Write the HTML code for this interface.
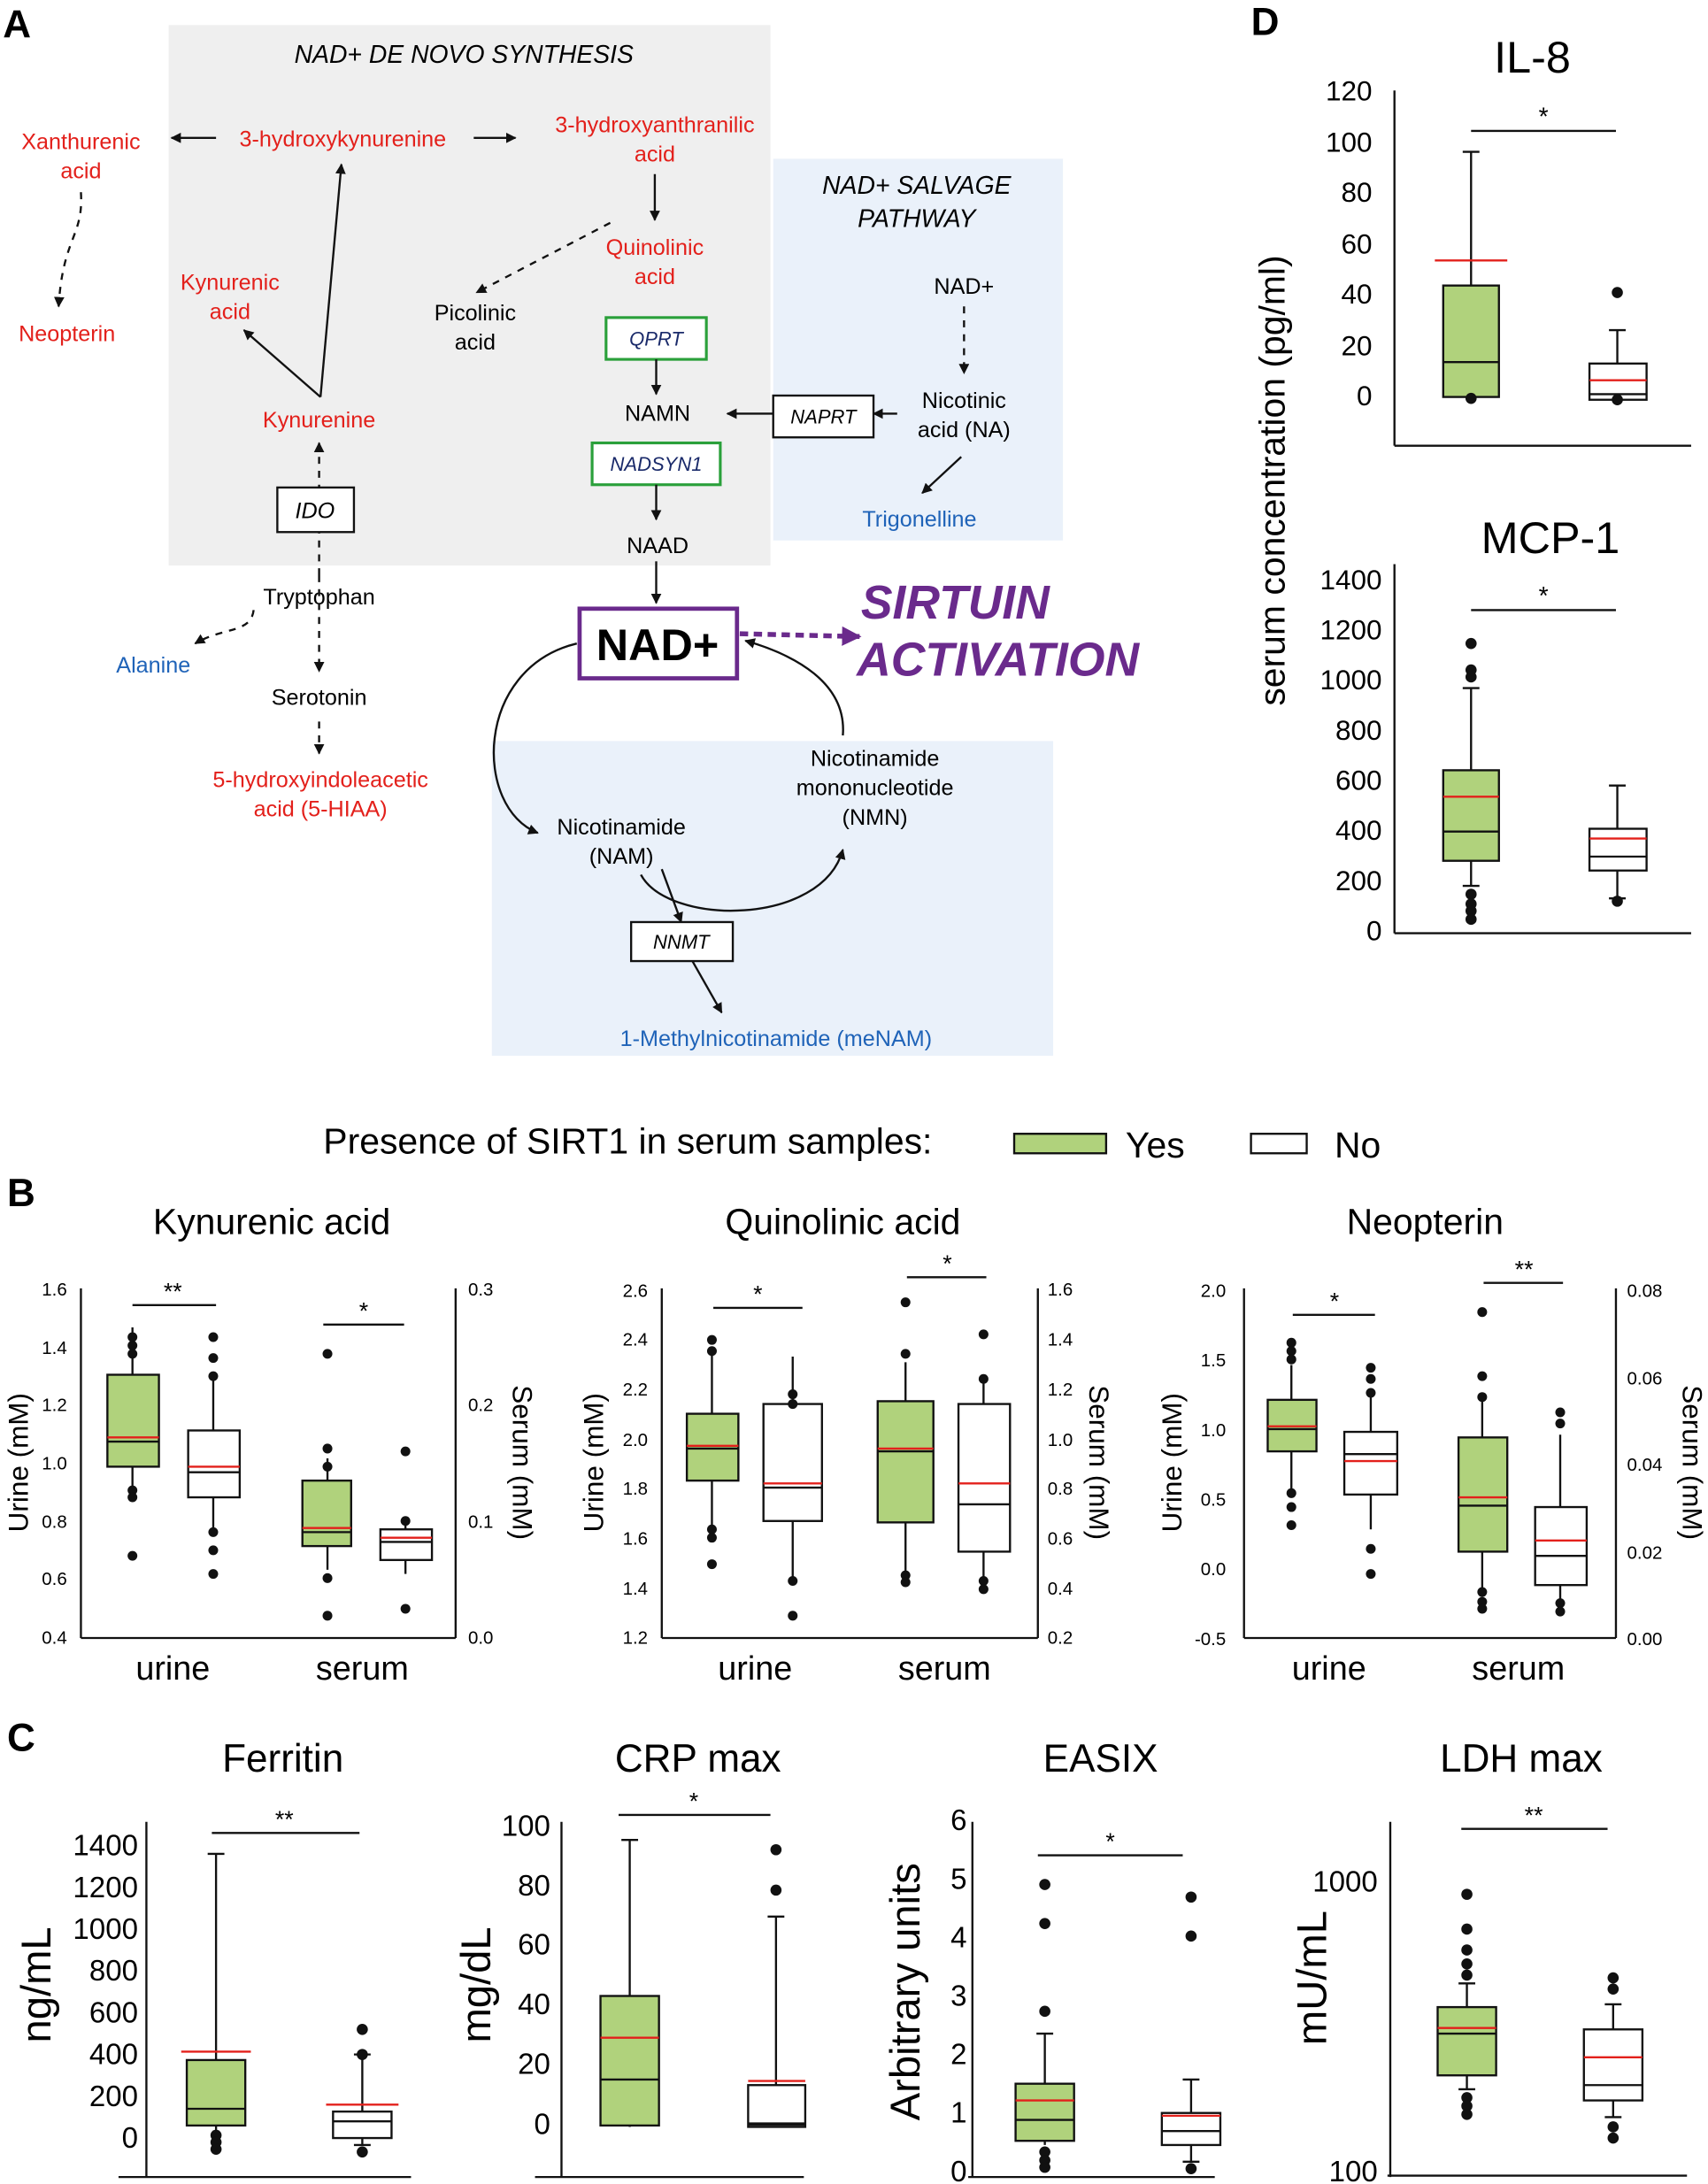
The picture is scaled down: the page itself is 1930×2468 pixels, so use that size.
<!DOCTYPE html>
<html><head><meta charset="utf-8"><style>
html,body{margin:0;padding:0;background:#fff}
svg{display:block}
text{font-family:"Liberation Sans",Arial,sans-serif}
</style></head><body>
<svg width="1930" height="2468" viewBox="0 0 1226 1568" xmlns="http://www.w3.org/2000/svg">
<defs>
<marker id="ah" viewBox="0 0 10 10" refX="9" refY="5" markerWidth="5" markerHeight="5" orient="auto"><path d="M0,0L10,5L0,10z" fill="#111"/></marker>
<marker id="ap" viewBox="0 0 10 10" refX="9" refY="5" markerWidth="4" markerHeight="4" orient="auto"><path d="M0,0L10,5L0,10z" fill="#6a2a8c"/></marker>
</defs>
<!-- PANEL A -->
<text x="2" y="27" font-size="28" font-weight="bold">A</text>
<rect x="121" y="18" width="432" height="388" fill="#efefef"/>
<rect x="555" y="114" width="208" height="274" fill="#eaf1fa"/>
<rect x="353" y="532" width="403" height="226" fill="#eaf1fa"/>
<g font-size="16" text-anchor="middle">
<text x="333" y="45" font-size="18" font-style="italic">NAD+ DE NOVO SYNTHESIS</text>
<text x="658" y="139" font-size="18" font-style="italic">NAD+ SALVAGE</text>
<text x="658" y="163" font-size="18" font-style="italic">PATHWAY</text>
<g fill="#e3201b">
<text x="58" y="107">Xanthurenic</text><text x="58" y="128">acid</text>
<text x="48" y="245">Neopterin</text>
<text x="246" y="105">3-hydroxykynurenine</text>
<text x="470" y="95">3-hydroxyanthranilic</text><text x="470" y="116">acid</text>
<text x="470" y="183">Quinolinic</text><text x="470" y="204">acid</text>
<text x="165" y="208">Kynurenic</text><text x="165" y="229">acid</text>
<text x="229" y="307">Kynurenine</text>
<text x="230" y="565">5-hydroxyindoleacetic</text><text x="230" y="586">acid (5-HIAA)</text>
</g>
<text x="341" y="230">Picolinic</text><text x="341" y="251">acid</text>
<text x="472" y="302">NAMN</text>
<text x="472" y="397">NAAD</text>
<text x="692" y="211">NAD+</text>
<text x="692" y="293">Nicotinic</text><text x="692" y="314">acid (NA)</text>
<text x="229" y="434">Tryptophan</text>
<text x="229" y="506">Serotonin</text>
<text x="628" y="550">Nicotinamide</text><text x="628" y="571">mononucleotide</text><text x="628" y="592">(NMN)</text>
<text x="446" y="599">Nicotinamide</text><text x="446" y="620">(NAM)</text>
<g fill="#1f63b8">
<text x="660" y="378">Trigonelline</text>
<text x="110" y="483">Alanine</text>
<text x="557" y="751">1-Methylnicotinamide (meNAM)</text>
</g>
</g>
<rect x="435" y="228" width="72" height="30" fill="#fff" stroke="#2aa03a" stroke-width="2"/>
<text x="471" y="248" font-size="14" font-style="italic" text-anchor="middle" fill="#1a2a6a">QPRT</text>
<rect x="425" y="318" width="92" height="30" fill="#fff" stroke="#2aa03a" stroke-width="2"/>
<text x="471" y="338" font-size="14" font-style="italic" text-anchor="middle" fill="#1a2a6a">NADSYN1</text>
<rect x="555" y="284" width="72" height="30" fill="#fff" stroke="#111" stroke-width="1.5"/>
<text x="591" y="304" font-size="14" font-style="italic" text-anchor="middle">NAPRT</text>
<g stroke="#111" stroke-width="1.5" fill="none" stroke-dasharray="5,5" marker-end="url(#ah)">
<path d="M58,138 C60,170 45,170 42,220"/>
<line x1="438" y1="160" x2="342" y2="210"/>
<line x1="692" y1="220" x2="692" y2="268"/>
<line x1="229" y1="413" x2="229" y2="318"/>
<line x1="229" y1="413" x2="229" y2="482"/>
<line x1="229" y1="518" x2="229" y2="541"/>
<path d="M182,438 C180,455 160,450 140,462"/>
</g>
<rect x="199" y="350" width="55" height="32" fill="#fff" stroke="#111" stroke-width="1.5"/>
<text x="226" y="372" font-size="16" font-style="italic" text-anchor="middle">IDO</text>
<rect x="416" y="437" width="113" height="50" fill="#fff" stroke="#6a2a8c" stroke-width="3"/>
<text x="472" y="474" font-size="32" font-weight="bold" text-anchor="middle">NAD+</text>
<text x="618" y="444" font-size="34" font-weight="bold" font-style="italic" fill="#6a2a8c">SIRTUIN</text>
<text x="615" y="485" font-size="34" font-weight="bold" font-style="italic" fill="#6a2a8c">ACTIVATION</text>
<g stroke="#111" stroke-width="1.5" fill="none" marker-end="url(#ah)">
<line x1="155" y1="99" x2="123" y2="99"/>
<line x1="340" y1="99" x2="370" y2="99"/>
<line x1="470" y1="125" x2="470" y2="158"/>
<line x1="230" y1="285" x2="245" y2="118"/>
<line x1="230" y1="285" x2="175" y2="237"/>
<line x1="471" y1="258" x2="471" y2="283"/>
<line x1="471" y1="348" x2="471" y2="373"/>
<line x1="471" y1="403" x2="471" y2="433"/>
<line x1="555" y1="297" x2="522" y2="297"/>
<line x1="644" y1="297" x2="627" y2="297" marker-end=""/>
<line x1="690" y1="328" x2="662" y2="354"/>
<line x1="497" y1="690" x2="518" y2="727"/>
<line x1="475" y1="624" x2="489" y2="662" marker-end=""/>
<path d="M414,462 C340,480 340,580 386,598"/>
<path d="M605,528 C608,490 570,470 535,460"/>
<path d="M460,628 C480,665 590,665 605,610"/>
</g>
<rect x="453" y="662" width="73" height="28" fill="#fff" stroke="#111" stroke-width="1.5"/>
<text x="489" y="681" font-size="14" font-style="italic" text-anchor="middle">NNMT</text>
<line x1="531" y1="455" x2="617" y2="457" stroke="#6a2a8c" stroke-width="3.5" stroke-dasharray="6,4" marker-end="url(#ap)"/>

<!-- PANEL D -->
<text x="898" y="25" font-size="28" font-weight="bold">D</text>
<text x="1100" y="52" font-size="32" text-anchor="middle">IL-8</text>
<text x="1113" y="397" font-size="32" text-anchor="middle">MCP-1</text>
<text transform="translate(922,345) rotate(-90)" font-size="26" text-anchor="middle">serum concentration (pg/ml)</text>
<g font-size="20" text-anchor="end">
<text x="985" y="72">120</text><text x="985" y="109">100</text><text x="985" y="145">80</text><text x="985" y="182">60</text><text x="985" y="218">40</text><text x="985" y="255">20</text><text x="985" y="291">0</text>
<text x="992" y="423">1400</text><text x="992" y="459">1200</text><text x="992" y="495">1000</text><text x="992" y="531">800</text><text x="992" y="567">600</text><text x="992" y="603">400</text><text x="992" y="639">200</text><text x="992" y="675">0</text>
</g>
<g stroke="#111" stroke-width="1.5">
<line x1="1001" y1="65" x2="1001" y2="320"/><line x1="1001" y1="320" x2="1214" y2="320"/>
<line x1="1001" y1="405" x2="1001" y2="670"/><line x1="1001" y1="670" x2="1214" y2="670"/>
<line x1="1056" y1="94" x2="1160" y2="94"/><line x1="1056" y1="438" x2="1160" y2="438"/>
<line x1="1056" y1="109" x2="1056" y2="285"/><line x1="1050" y1="109" x2="1062" y2="109"/>
<rect x="1036" y="205" width="40" height="80" fill="#b0d27c"/>
<line x1="1036" y1="260" x2="1076" y2="260"/>
<line x1="1030" y1="187" x2="1082" y2="187" stroke="#e3201b"/>
<line x1="1161" y1="237" x2="1161" y2="261"/><line x1="1155" y1="237" x2="1167" y2="237"/>
<rect x="1141" y="261" width="41" height="26" fill="#fff"/>
<line x1="1141" y1="283" x2="1182" y2="283"/>
<line x1="1141" y1="273" x2="1182" y2="273" stroke="#e3201b"/>
<line x1="1056" y1="494" x2="1056" y2="636"/><line x1="1050" y1="494" x2="1062" y2="494"/><line x1="1050" y1="636" x2="1062" y2="636"/>
<rect x="1036" y="553" width="40" height="65" fill="#b0d27c"/>
<line x1="1036" y1="597" x2="1076" y2="597"/>
<line x1="1036" y1="572" x2="1076" y2="572" stroke="#e3201b"/>
<line x1="1161" y1="564" x2="1161" y2="645"/><line x1="1155" y1="564" x2="1167" y2="564"/><line x1="1155" y1="645" x2="1167" y2="645"/>
<rect x="1141" y="595" width="41" height="30" fill="#fff"/>
<line x1="1141" y1="615" x2="1182" y2="615"/>
<line x1="1141" y1="602" x2="1182" y2="602" stroke="#e3201b"/>
</g>
<g fill="#111">
<circle cx="1056" cy="286" r="4"/><circle cx="1161" cy="210" r="4"/><circle cx="1161" cy="287" r="4"/>
<circle cx="1056" cy="462" r="4"/><circle cx="1056" cy="481" r="4"/><circle cx="1056" cy="486" r="4"/><circle cx="1056" cy="642" r="4"/><circle cx="1056" cy="649" r="4"/><circle cx="1056" cy="654" r="4"/><circle cx="1056" cy="660" r="4"/>
<circle cx="1161" cy="647" r="4"/>
</g>
<g font-size="18" text-anchor="middle"><text x="1108" y="90">*</text><text x="1108" y="434">*</text></g>

<!-- LEGEND -->
<text x="232" y="828" font-size="26">Presence of SIRT1 in serum samples:</text>
<rect x="728" y="814" width="66" height="14" fill="#b0d27c" stroke="#111" stroke-width="1.5"/>
<text x="808" y="831" font-size="26">Yes</text>
<rect x="898" y="814" width="40" height="14" fill="#fff" stroke="#111" stroke-width="1.5"/>
<text x="958" y="831" font-size="26">No</text>

<!-- PANEL B -->
<text x="5" y="866" font-size="28" font-weight="bold">B</text>
<g font-size="26" text-anchor="middle">
<text x="195" y="886">Kynurenic acid</text><text x="605" y="886">Quinolinic acid</text><text x="1023" y="886">Neopterin</text>
</g>
<g font-size="24" text-anchor="middle">
<text x="124" y="1206">urine</text><text x="260" y="1206">serum</text>
<text x="542" y="1206">urine</text><text x="678" y="1206">serum</text>
<text x="954" y="1206">urine</text><text x="1090" y="1206">serum</text>
</g>
<g font-size="20" text-anchor="middle">
<text transform="translate(20,1050) rotate(-90)">Urine (mM)</text>
<text transform="translate(368,1050) rotate(90)">Serum (mM)</text>
<text transform="translate(433,1050) rotate(-90)">Urine (mM)</text>
<text transform="translate(782,1050) rotate(90)">Serum (mM)</text>
<text transform="translate(848,1050) rotate(-90)">Urine (mM)</text>
<text transform="translate(1208,1050) rotate(90)">Serum (mM)</text>
</g>
<g font-size="13" text-anchor="end">
<text x="48" y="930">1.6</text><text x="48" y="972">1.4</text><text x="48" y="1013">1.2</text><text x="48" y="1055">1.0</text><text x="48" y="1097">0.8</text><text x="48" y="1138">0.6</text><text x="48" y="1180">0.4</text>
<text x="465" y="931">2.6</text><text x="465" y="966">2.4</text><text x="465" y="1002">2.2</text><text x="465" y="1038">2.0</text><text x="465" y="1073">1.8</text><text x="465" y="1109">1.6</text><text x="465" y="1145">1.4</text><text x="465" y="1180">1.2</text>
<text x="880" y="931">2.0</text><text x="880" y="981">1.5</text><text x="880" y="1031">1.0</text><text x="880" y="1081">0.5</text><text x="880" y="1131">0.0</text><text x="880" y="1181">-0.5</text>
</g>
<g font-size="13">
<text x="336" y="930">0.3</text><text x="336" y="1097">0.1</text><text x="336" y="1180">0.0</text>
<text x="336" y="1013">0.2</text>
<text x="752" y="930">1.6</text><text x="752" y="966">1.4</text><text x="752" y="1002">1.2</text><text x="752" y="1038">1.0</text><text x="752" y="1073">0.8</text><text x="752" y="1109">0.6</text><text x="752" y="1145">0.4</text><text x="752" y="1180">0.2</text>
<text x="1168" y="931">0.08</text><text x="1168" y="994">0.06</text><text x="1168" y="1056">0.04</text><text x="1168" y="1119">0.02</text><text x="1168" y="1181">0.00</text>
</g>
<g stroke="#111" stroke-width="1.5">
<line x1="58" y1="925" x2="58" y2="1176"/><line x1="327" y1="925" x2="327" y2="1176"/><line x1="58" y1="1176" x2="327" y2="1176"/>
<line x1="475" y1="925" x2="475" y2="1176"/><line x1="745" y1="925" x2="745" y2="1176"/><line x1="475" y1="1176" x2="745" y2="1176"/>
<line x1="893" y1="925" x2="893" y2="1176"/><line x1="1160" y1="925" x2="1160" y2="1176"/><line x1="893" y1="1176" x2="1160" y2="1176"/>
<line x1="95" y1="937" x2="155" y2="937"/><line x1="232" y1="951" x2="290" y2="951"/>
<line x1="512" y1="939" x2="576" y2="939"/><line x1="651" y1="917" x2="708" y2="917"/>
<line x1="928" y1="944" x2="987" y2="944"/><line x1="1065" y1="921" x2="1122" y2="921"/>
<line x1="95" y1="953" x2="95" y2="1068"/><rect x="77" y="987" width="37" height="66" fill="#b0d27c"/><line x1="77" y1="1035" x2="114" y2="1035"/><line x1="77" y1="1032" x2="114" y2="1032" stroke="#e3201b"/>
<line x1="153" y1="987" x2="153" y2="1097"/><rect x="135" y="1027" width="37" height="48" fill="#fff"/><line x1="135" y1="1057" x2="172" y2="1057"/><line x1="135" y1="1053" x2="172" y2="1053" stroke="#e3201b"/>
<line x1="235" y1="1047" x2="235" y2="1127"/><rect x="217" y="1063" width="35" height="47" fill="#b0d27c"/><line x1="217" y1="1100" x2="252" y2="1100"/><line x1="217" y1="1097" x2="252" y2="1097" stroke="#e3201b"/>
<line x1="291" y1="1090" x2="291" y2="1130"/><rect x="273" y="1098" width="37" height="22" fill="#fff"/><line x1="273" y1="1107" x2="310" y2="1107"/><line x1="273" y1="1104" x2="310" y2="1104" stroke="#e3201b"/>
<line x1="511" y1="968" x2="511" y2="1095"/><rect x="493" y="1015" width="37" height="48" fill="#b0d27c"/><line x1="493" y1="1040" x2="530" y2="1040"/><line x1="493" y1="1038" x2="530" y2="1038" stroke="#e3201b"/>
<line x1="569" y1="974" x2="569" y2="1133"/><rect x="548" y="1008" width="42" height="84" fill="#fff"/><line x1="548" y1="1068" x2="590" y2="1068"/><line x1="548" y1="1065" x2="590" y2="1065" stroke="#e3201b"/>
<line x1="650" y1="978" x2="650" y2="1130"/><rect x="630" y="1006" width="40" height="87" fill="#b0d27c"/><line x1="630" y1="1042" x2="670" y2="1042"/><line x1="630" y1="1040" x2="670" y2="1040" stroke="#e3201b"/>
<line x1="706" y1="990" x2="706" y2="1135"/><rect x="688" y="1008" width="37" height="106" fill="#fff"/><line x1="688" y1="1080" x2="725" y2="1080"/><line x1="688" y1="1065" x2="725" y2="1065" stroke="#e3201b"/>
<line x1="927" y1="980" x2="927" y2="1069"/><rect x="910" y="1005" width="35" height="37" fill="#b0d27c"/><line x1="910" y1="1026" x2="945" y2="1026"/><line x1="910" y1="1024" x2="945" y2="1024" stroke="#e3201b"/>
<line x1="984" y1="1003" x2="984" y2="1098"/><rect x="965" y="1028" width="38" height="45" fill="#fff"/><line x1="965" y1="1044" x2="1003" y2="1044"/><line x1="965" y1="1049" x2="1003" y2="1049" stroke="#e3201b"/>
<line x1="1064" y1="1003" x2="1064" y2="1140"/><rect x="1047" y="1032" width="35" height="82" fill="#b0d27c"/><line x1="1047" y1="1081" x2="1082" y2="1081"/><line x1="1047" y1="1075" x2="1082" y2="1075" stroke="#e3201b"/>
<line x1="1120" y1="1030" x2="1120" y2="1150"/><rect x="1102" y="1082" width="37" height="56" fill="#fff"/><line x1="1102" y1="1117" x2="1139" y2="1117"/><line x1="1102" y1="1106" x2="1139" y2="1106" stroke="#e3201b"/>
</g>
<g fill="#111">
<circle cx="95" cy="960" r="3.5"/><circle cx="95" cy="966" r="3.5"/><circle cx="95" cy="972" r="3.5"/><circle cx="95" cy="1070" r="3.5"/><circle cx="95" cy="1075" r="3.5"/><circle cx="95" cy="1117" r="3.5"/>
<circle cx="153" cy="960" r="3.5"/><circle cx="153" cy="975" r="3.5"/><circle cx="153" cy="988" r="3.5"/><circle cx="153" cy="1100" r="3.5"/><circle cx="153" cy="1113" r="3.5"/><circle cx="153" cy="1130" r="3.5"/>
<circle cx="235" cy="972" r="3.5"/><circle cx="235" cy="1040" r="3.5"/><circle cx="235" cy="1053" r="3.5"/><circle cx="235" cy="1133" r="3.5"/><circle cx="235" cy="1160" r="3.5"/>
<circle cx="291" cy="1042" r="3.5"/><circle cx="291" cy="1092" r="3.5"/><circle cx="291" cy="1155" r="3.5"/>
<circle cx="511" cy="962" r="3.5"/><circle cx="511" cy="970" r="3.5"/><circle cx="511" cy="1098" r="3.5"/><circle cx="511" cy="1104" r="3.5"/><circle cx="511" cy="1123" r="3.5"/>
<circle cx="569" cy="1001" r="3.5"/><circle cx="569" cy="1008" r="3.5"/><circle cx="569" cy="1135" r="3.5"/><circle cx="569" cy="1160" r="3.5"/>
<circle cx="650" cy="935" r="3.5"/><circle cx="650" cy="972" r="3.5"/><circle cx="650" cy="1131" r="3.5"/><circle cx="650" cy="1136" r="3.5"/>
<circle cx="706" cy="958" r="3.5"/><circle cx="706" cy="990" r="3.5"/><circle cx="706" cy="1135" r="3.5"/><circle cx="706" cy="1141" r="3.5"/>
<circle cx="927" cy="964" r="3.5"/><circle cx="927" cy="970" r="3.5"/><circle cx="927" cy="976" r="3.5"/><circle cx="927" cy="1072" r="3.5"/><circle cx="927" cy="1082" r="3.5"/><circle cx="927" cy="1095" r="3.5"/>
<circle cx="984" cy="982" r="3.5"/><circle cx="984" cy="990" r="3.5"/><circle cx="984" cy="1000" r="3.5"/><circle cx="984" cy="1112" r="3.5"/><circle cx="984" cy="1130" r="3.5"/>
<circle cx="1064" cy="942" r="3.5"/><circle cx="1064" cy="988" r="3.5"/><circle cx="1064" cy="1003" r="3.5"/><circle cx="1064" cy="1143" r="3.5"/><circle cx="1064" cy="1150" r="3.5"/><circle cx="1064" cy="1155" r="3.5"/>
<circle cx="1120" cy="1014" r="3.5"/><circle cx="1120" cy="1022" r="3.5"/><circle cx="1120" cy="1151" r="3.5"/><circle cx="1120" cy="1157" r="3.5"/>
</g>
<g font-size="17" text-anchor="middle">
<text x="124" y="933">**</text><text x="261" y="947">*</text><text x="544" y="935">*</text><text x="680" y="913">*</text><text x="958" y="940">*</text><text x="1094" y="917">**</text>
</g>

<!-- PANEL C -->
<text x="5" y="1257" font-size="28" font-weight="bold">C</text>
<g font-size="28" text-anchor="middle">
<text x="203" y="1272">Ferritin</text><text x="501" y="1272">CRP max</text><text x="790" y="1272">EASIX</text><text x="1092" y="1272">LDH max</text>
</g>
<g font-size="30" text-anchor="middle">
<text transform="translate(36,1425) rotate(-90)">ng/mL</text>
<text transform="translate(352,1425) rotate(-90)">mg/dL</text>
<text transform="translate(660,1430) rotate(-90)">Arbitrary units</text>
<text transform="translate(952,1420) rotate(-90)">mU/mL</text>
</g>
<g font-size="21" text-anchor="end">
<text x="99" y="1332">1400</text><text x="99" y="1362">1200</text><text x="99" y="1392">1000</text><text x="99" y="1422">800</text><text x="99" y="1452">600</text><text x="99" y="1482">400</text><text x="99" y="1512">200</text><text x="99" y="1542">0</text>
<text x="395" y="1318">100</text><text x="395" y="1361">80</text><text x="395" y="1403">60</text><text x="395" y="1446">40</text><text x="395" y="1489">20</text><text x="395" y="1532">0</text>
<text x="694" y="1314">6</text><text x="694" y="1356">5</text><text x="694" y="1398">4</text><text x="694" y="1440">3</text><text x="694" y="1482">2</text><text x="694" y="1524">1</text><text x="694" y="1566">0</text>
<text x="989" y="1358">1000</text><text x="989" y="1566">100</text>
</g>
<g stroke="#111" stroke-width="1.5">
<line x1="105" y1="1308" x2="105" y2="1563"/><line x1="85" y1="1563" x2="295" y2="1563"/>
<line x1="403" y1="1308" x2="403" y2="1563"/><line x1="384" y1="1563" x2="577" y2="1563"/>
<line x1="698" y1="1308" x2="698" y2="1563"/><line x1="695" y1="1563" x2="872" y2="1563"/>
<line x1="998" y1="1308" x2="998" y2="1563"/><line x1="996" y1="1562" x2="1211" y2="1562"/>
<line x1="152" y1="1316" x2="258" y2="1316"/><line x1="444" y1="1303" x2="553" y2="1303"/><line x1="745" y1="1332" x2="849" y2="1332"/><line x1="1049" y1="1313" x2="1154" y2="1313"/>
<!-- ferritin -->
<line x1="155" y1="1331" x2="155" y2="1531"/><line x1="149" y1="1331" x2="161" y2="1331"/>
<rect x="134" y="1479" width="42" height="47" fill="#b0d27c"/><line x1="134" y1="1514" x2="176" y2="1514"/><line x1="130" y1="1473" x2="180" y2="1473" stroke="#e3201b"/>
<line x1="260" y1="1475" x2="260" y2="1540"/><line x1="254" y1="1475" x2="266" y2="1475"/><line x1="254" y1="1540" x2="266" y2="1540"/>
<rect x="239" y="1516" width="42" height="19" fill="#fff"/><line x1="239" y1="1523" x2="281" y2="1523"/><line x1="234" y1="1511" x2="286" y2="1511" stroke="#e3201b"/>
<!-- CRP -->
<line x1="452" y1="1321" x2="452" y2="1527"/><line x1="446" y1="1321" x2="458" y2="1321"/>
<rect x="431" y="1433" width="42" height="93" fill="#b0d27c"/><line x1="431" y1="1493" x2="473" y2="1493"/><line x1="431" y1="1463" x2="473" y2="1463" stroke="#e3201b"/>
<line x1="557" y1="1376" x2="557" y2="1497"/><line x1="551" y1="1376" x2="563" y2="1376"/>
<rect x="537" y="1497" width="41" height="30" fill="#fff"/><line x1="537" y1="1525" x2="578" y2="1525" stroke-width="2.5"/><line x1="537" y1="1494" x2="578" y2="1494" stroke="#e3201b"/>
<!-- EASIX -->
<line x1="750" y1="1460" x2="750" y2="1540"/><line x1="744" y1="1460" x2="756" y2="1460"/>
<rect x="729" y="1496" width="42" height="41" fill="#b0d27c"/><line x1="729" y1="1522" x2="771" y2="1522"/><line x1="729" y1="1508" x2="771" y2="1508" stroke="#e3201b"/>
<line x1="855" y1="1493" x2="855" y2="1552"/><line x1="849" y1="1493" x2="861" y2="1493"/><line x1="849" y1="1552" x2="861" y2="1552"/>
<rect x="834" y="1517" width="42" height="23" fill="#fff"/><line x1="834" y1="1530" x2="876" y2="1530"/><line x1="834" y1="1519" x2="876" y2="1519" stroke="#e3201b"/>
<!-- LDH -->
<line x1="1053" y1="1424" x2="1053" y2="1500"/><line x1="1047" y1="1424" x2="1059" y2="1424"/><line x1="1047" y1="1500" x2="1059" y2="1500"/>
<rect x="1032" y="1441" width="42" height="49" fill="#b0d27c"/><line x1="1032" y1="1460" x2="1074" y2="1460"/><line x1="1032" y1="1456" x2="1074" y2="1456" stroke="#e3201b"/>
<line x1="1158" y1="1439" x2="1158" y2="1520"/><line x1="1152" y1="1439" x2="1164" y2="1439"/><line x1="1152" y1="1520" x2="1164" y2="1520"/>
<rect x="1137" y="1457" width="42" height="51" fill="#fff"/><line x1="1137" y1="1497" x2="1179" y2="1497"/><line x1="1137" y1="1477" x2="1179" y2="1477" stroke="#e3201b"/>
</g>
<g fill="#111">
<circle cx="155" cy="1533" r="4"/><circle cx="155" cy="1538" r="4"/><circle cx="155" cy="1543" r="4"/>
<circle cx="260" cy="1457" r="4"/><circle cx="260" cy="1475" r="4"/><circle cx="260" cy="1545" r="4"/>
<circle cx="557" cy="1328" r="4"/><circle cx="557" cy="1357" r="4"/>
<circle cx="750" cy="1353" r="4"/><circle cx="750" cy="1381" r="4"/><circle cx="750" cy="1444" r="4"/><circle cx="750" cy="1545" r="4"/><circle cx="750" cy="1551" r="4"/><circle cx="750" cy="1556" r="4"/>
<circle cx="855" cy="1362" r="4"/><circle cx="855" cy="1390" r="4"/><circle cx="855" cy="1557" r="4"/>
<circle cx="1053" cy="1360" r="4"/><circle cx="1053" cy="1385" r="4"/><circle cx="1053" cy="1400" r="4"/><circle cx="1053" cy="1410" r="4"/><circle cx="1053" cy="1418" r="4"/><circle cx="1053" cy="1506" r="4"/><circle cx="1053" cy="1512" r="4"/><circle cx="1053" cy="1518" r="4"/>
<circle cx="1158" cy="1420" r="4"/><circle cx="1158" cy="1428" r="4"/><circle cx="1158" cy="1527" r="4"/><circle cx="1158" cy="1535" r="4"/>
</g>
<g font-size="17" text-anchor="middle">
<text x="204" y="1312">**</text><text x="498" y="1299">*</text><text x="797" y="1328">*</text><text x="1101" y="1309">**</text>
</g>
</svg>
</body></html>
